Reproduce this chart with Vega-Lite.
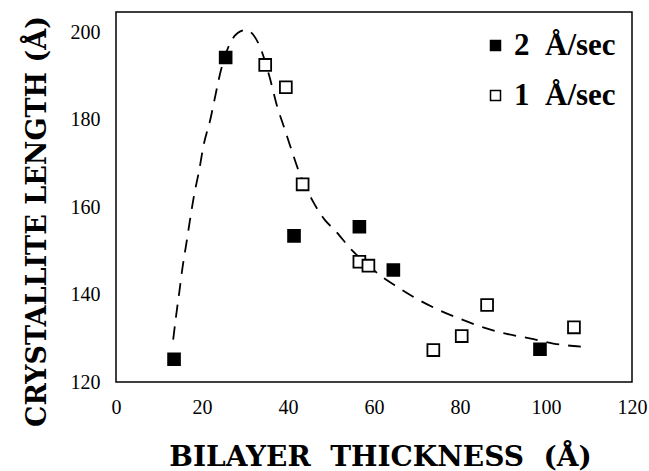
{
  "$schema": "https://vega.github.io/schema/vega-lite/v6.json",
  "autosize": {"type": "none"},
  "padding": {"left": 116, "top": 12, "right": 17, "bottom": 89},
  "width": 516,
  "height": 370,
  "background": "white",
  "config": {
    "view": {"stroke": "black", "strokeWidth": 1.5},
    "axis": {
      "domain": false,
      "ticks": false,
      "grid": false,
      "labelFont": "Liberation Serif, Times New Roman, serif",
      "labelFontSize": 20,
      "labelColor": "black",
      "titleFont": "DejaVu Serif, serif",
      "titleFontWeight": "bold",
      "titleFontSize": 27,
      "titleColor": "black"
    }
  },
  "datasets": {
    "points": [
      {"thickness": 13.5, "length": 125.2, "rate": "2 Å/sec"},
      {"thickness": 25.5, "length": 194.2, "rate": "2 Å/sec"},
      {"thickness": 41.4, "length": 153.4, "rate": "2 Å/sec"},
      {"thickness": 56.6, "length": 155.5, "rate": "2 Å/sec"},
      {"thickness": 64.5, "length": 145.6, "rate": "2 Å/sec"},
      {"thickness": 98.6, "length": 127.5, "rate": "2 Å/sec"},
      {"thickness": 34.7, "length": 192.5, "rate": "1 Å/sec"},
      {"thickness": 39.5, "length": 187.4, "rate": "1 Å/sec"},
      {"thickness": 43.4, "length": 165.2, "rate": "1 Å/sec"},
      {"thickness": 56.6, "length": 147.5, "rate": "1 Å/sec"},
      {"thickness": 58.7, "length": 146.6, "rate": "1 Å/sec"},
      {"thickness": 73.8, "length": 127.3, "rate": "1 Å/sec"},
      {"thickness": 80.4, "length": 130.5, "rate": "1 Å/sec"},
      {"thickness": 86.3, "length": 137.6, "rate": "1 Å/sec"},
      {"thickness": 106.5, "length": 132.5, "rate": "1 Å/sec"}
    ],
    "curve": [
      {"thickness": 13.3, "length": 129.7},
      {"thickness": 14.0, "length": 135.3},
      {"thickness": 14.7, "length": 140.4},
      {"thickness": 15.5, "length": 146.4},
      {"thickness": 16.3, "length": 151.3},
      {"thickness": 17.2, "length": 157.0},
      {"thickness": 18.1, "length": 162.4},
      {"thickness": 19.4, "length": 168.7},
      {"thickness": 20.3, "length": 173.8},
      {"thickness": 22.0, "length": 180.3},
      {"thickness": 22.9, "length": 184.5},
      {"thickness": 24.4, "length": 191.3},
      {"thickness": 26.5, "length": 197.4},
      {"thickness": 28.3, "length": 199.8},
      {"thickness": 30.2, "length": 200.5},
      {"thickness": 32.0, "length": 199.3},
      {"thickness": 33.5, "length": 196.6},
      {"thickness": 35.7, "length": 189.8},
      {"thickness": 37.4, "length": 183.3},
      {"thickness": 39.3, "length": 177.6},
      {"thickness": 40.7, "length": 173.4},
      {"thickness": 42.4, "length": 168.5},
      {"thickness": 45.8, "length": 161.3},
      {"thickness": 48.6, "length": 157.0},
      {"thickness": 50.9, "length": 154.7},
      {"thickness": 54.8, "length": 150.2},
      {"thickness": 58.5, "length": 146.8},
      {"thickness": 61.8, "length": 144.1},
      {"thickness": 65.3, "length": 141.8},
      {"thickness": 69.1, "length": 139.5},
      {"thickness": 75.0, "length": 136.5},
      {"thickness": 79.6, "length": 134.6},
      {"thickness": 85.4, "length": 132.5},
      {"thickness": 90.9, "length": 131.0},
      {"thickness": 97.1, "length": 129.8},
      {"thickness": 101.7, "length": 128.8},
      {"thickness": 108.1, "length": 128.1}
    ],
    "xticks": [
      {"thickness": 10}, {"thickness": 20}, {"thickness": 30}, {"thickness": 40},
      {"thickness": 50}, {"thickness": 60}, {"thickness": 70}, {"thickness": 80},
      {"thickness": 90}, {"thickness": 100}, {"thickness": 110}
    ],
    "yticks": [
      {"length": 130}, {"length": 140}, {"length": 150}, {"length": 160},
      {"length": 170}, {"length": 180}, {"length": 190}, {"length": 200}
    ]
  },
  "encoding": {
    "x": {
      "field": "thickness",
      "type": "quantitative",
      "scale": {"domain": [0, 120], "nice": false, "zero": false},
      "axis": {
        "title": "BILAYER\u00a0\u00a0THICKNESS\u00a0\u00a0(Å)",
        "titleFontSize": 28,
        "values": [0, 20, 40, 60, 80, 100, 120],
        "labelPadding": 15,
        "labelFlush": false,
        "labelOverlap": false,
        "titleX": 264,
        "titleY": 83,
        "titleBaseline": "alphabetic"
      }
    },
    "y": {
      "field": "length",
      "type": "quantitative",
      "scale": {"domain": [120, 204.6], "nice": false, "zero": false},
      "axis": {
        "title": "CRYSTALLITE LENGTH (Å)",
        "values": [120, 140, 160, 180, 200],
        "labelPadding": 16,
        "labelFlush": false,
        "labelOverlap": false,
        "titleAngle": -90,
        "titleX": -71,
        "titleY": 209,
        "titleBaseline": "alphabetic"
      }
    }
  },
  "layer": [
    {
      "data": {"name": "xticks"},
      "mark": {"type": "tick", "orient": "vertical", "size": 7, "thickness": 1.5, "color": "black", "opacity": 1},
      "encoding": {
        "y": {"datum": 120.8, "type": "quantitative"}
      }
    },
    {
      "data": {"name": "yticks"},
      "mark": {"type": "tick", "orient": "horizontal", "size": 8, "thickness": 1.5, "color": "black", "opacity": 1},
      "encoding": {
        "x": {"datum": 0.93, "type": "quantitative"}
      }
    },
    {
      "data": {"name": "curve"},
      "mark": {"type": "line", "color": "black", "strokeWidth": 1.8, "strokeDash": [13, 9], "interpolate": "monotone"}
    },
    {
      "data": {"name": "points"},
      "mark": {"type": "point", "shape": "square", "size": 140, "filled": true, "stroke": "black", "strokeWidth": 1.8, "opacity": 1},
      "encoding": {
        "fill": {
          "field": "rate",
          "type": "nominal",
          "scale": {"domain": ["2 Å/sec", "1 Å/sec"], "range": ["black", "white"]},
          "legend": {
            "title": null,
            "orient": "none",
            "legendX": 364,
            "legendY": 18,
            "padding": 0,
            "symbolType": "square",
            "symbolSize": 100,
            "symbolStrokeColor": "black",
            "symbolStrokeWidth": 1.5,
            "labelFont": "Liberation Serif, Times New Roman, serif",
            "labelFontWeight": "bold",
            "labelFontSize": 31,
            "labelColor": "black",
            "labelOffset": 3,
            "rowPadding": 18,
            "labelExpr": "replace(datum.label, ' ', '\u00a0\u00a0')"
          }
        }
      }
    }
  ]
}
